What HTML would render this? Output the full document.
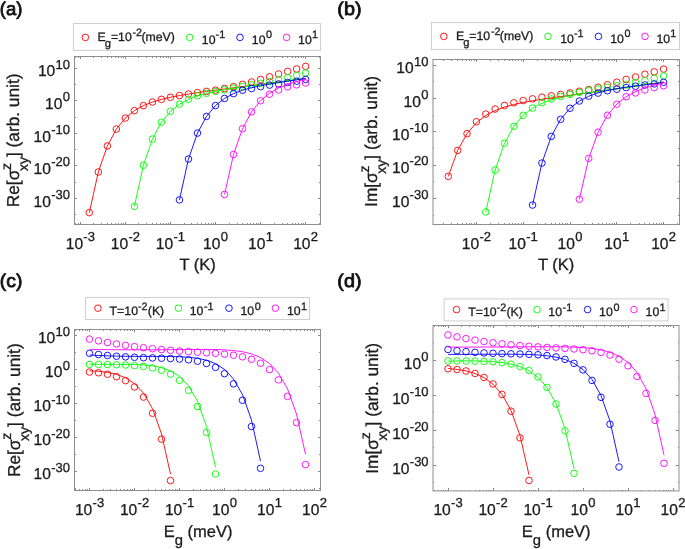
<!DOCTYPE html>
<html><head><meta charset="utf-8"><title>figure</title>
<style>html,body{margin:0;padding:0;background:#fff}body{width:685px;height:549px;overflow:hidden}svg{display:block;will-change:transform}text{text-rendering:geometricPrecision;stroke:#1c1c1c;stroke-width:0.3px}text{font-family:"Liberation Sans", sans-serif;white-space:pre}</style>
</head><body>
<svg width="685" height="549" viewBox="0 0 685 549" font-family='"Liberation Sans", sans-serif' fill="#1c1c1c">
<rect width="685" height="549" fill="#fff"/>
<rect x="74.5" y="56.5" width="246" height="168" fill="#fff" stroke="#8e8e8e" stroke-width="1"/>
<path d="M75.95 224.5v-1.3M75.95 56.5v1.3M78.26 224.5v-1.3M78.26 56.5v1.3M80.32 224.5v-2.6M80.32 56.5v2.6M93.88 224.5v-1.3M93.88 56.5v1.3M101.82 224.5v-1.3M101.82 56.5v1.3M107.45 224.5v-1.3M107.45 56.5v1.3M111.82 224.5v-1.3M111.82 56.5v1.3M115.38 224.5v-1.3M115.38 56.5v1.3M118.4 224.5v-1.3M118.4 56.5v1.3M121.01 224.5v-1.3M121.01 56.5v1.3M123.32 224.5v-1.3M123.32 56.5v1.3M125.38 224.5v-2.6M125.38 56.5v2.6M138.94 224.5v-1.3M138.94 56.5v1.3M146.88 224.5v-1.3M146.88 56.5v1.3M152.51 224.5v-1.3M152.51 56.5v1.3M156.88 224.5v-1.3M156.88 56.5v1.3M160.44 224.5v-1.3M160.44 56.5v1.3M163.46 224.5v-1.3M163.46 56.5v1.3M166.07 224.5v-1.3M166.07 56.5v1.3M168.38 224.5v-1.3M168.38 56.5v1.3M170.44 224.5v-2.6M170.44 56.5v2.6M184 224.5v-1.3M184 56.5v1.3M191.94 224.5v-1.3M191.94 56.5v1.3M197.57 224.5v-1.3M197.57 56.5v1.3M201.94 224.5v-1.3M201.94 56.5v1.3M205.5 224.5v-1.3M205.5 56.5v1.3M208.52 224.5v-1.3M208.52 56.5v1.3M211.13 224.5v-1.3M211.13 56.5v1.3M213.44 224.5v-1.3M213.44 56.5v1.3M215.5 224.5v-2.6M215.5 56.5v2.6M229.06 224.5v-1.3M229.06 56.5v1.3M237 224.5v-1.3M237 56.5v1.3M242.63 224.5v-1.3M242.63 56.5v1.3M247 224.5v-1.3M247 56.5v1.3M250.56 224.5v-1.3M250.56 56.5v1.3M253.58 224.5v-1.3M253.58 56.5v1.3M256.19 224.5v-1.3M256.19 56.5v1.3M258.5 224.5v-1.3M258.5 56.5v1.3M260.56 224.5v-2.6M260.56 56.5v2.6M274.12 224.5v-1.3M274.12 56.5v1.3M282.06 224.5v-1.3M282.06 56.5v1.3M287.69 224.5v-1.3M287.69 56.5v1.3M292.06 224.5v-1.3M292.06 56.5v1.3M295.62 224.5v-1.3M295.62 56.5v1.3M298.64 224.5v-1.3M298.64 56.5v1.3M301.25 224.5v-1.3M301.25 56.5v1.3M303.56 224.5v-1.3M303.56 56.5v1.3M305.62 224.5v-2.6M305.62 56.5v2.6M319.18 224.5v-1.3M319.18 56.5v1.3M74.5 68.38h2.6M320.5 68.38h-2.6M74.5 100.9h2.6M320.5 100.9h-2.6M74.5 133.43h2.6M320.5 133.43h-2.6M74.5 165.95h2.6M320.5 165.95h-2.6M74.5 198.48h2.6M320.5 198.48h-2.6M74.5 84.64h1.3M320.5 84.64h-1.3M74.5 117.16h1.3M320.5 117.16h-1.3M74.5 149.69h1.3M320.5 149.69h-1.3M74.5 182.21h1.3M320.5 182.21h-1.3M74.5 214.74h1.3M320.5 214.74h-1.3" stroke="#8a8a8a" stroke-width="1" shape-rendering="crispEdges" fill="none"/>
<text x="65.72" y="249" font-size="15.6">10</text>
<text x="83.37" y="241.2" font-size="13.0">-3</text>
<text x="110.78" y="249" font-size="15.6">10</text>
<text x="128.43" y="241.2" font-size="13.0">-2</text>
<text x="155.84" y="249" font-size="15.6">10</text>
<text x="173.49" y="241.2" font-size="13.0">-1</text>
<text x="203.06" y="249" font-size="15.6">10</text>
<text x="220.71" y="241.2" font-size="13.0">0</text>
<text x="248.12" y="249" font-size="15.6">10</text>
<text x="265.77" y="241.2" font-size="13.0">1</text>
<text x="293.18" y="249" font-size="15.6">10</text>
<text x="310.83" y="241.2" font-size="13.0">2</text>
<text x="37.9" y="76.47" font-size="15.6">10</text>
<text x="55.54" y="68.67" font-size="13.0">10</text>
<text x="45.12" y="109" font-size="15.6">10</text>
<text x="62.77" y="101.2" font-size="13.0">0</text>
<text x="33.57" y="141.53" font-size="15.6">10</text>
<text x="51.22" y="133.72" font-size="13.0">-10</text>
<text x="33.57" y="174.05" font-size="15.6">10</text>
<text x="51.22" y="166.25" font-size="13.0">-20</text>
<text x="33.57" y="206.58" font-size="15.6">10</text>
<text x="51.22" y="198.78" font-size="13.0">-30</text>
<text transform="translate(19.3 140.4) rotate(-90)" x="0" y="0" font-size="17.3" text-anchor="middle">Re[σ<tspan font-size="14.0" dx="-0.2" dy="-8.4">z</tspan><tspan font-size="14.0" dx="-8.2" dy="17.3">xy</tspan><tspan dy="-8.9">] (arb. unit)</tspan></text>
<text x="197.7" y="270" font-size="16.5" text-anchor="middle">T (K)</text>
<text x="-0.2" y="14.8" font-size="18.5" fill="#111" style="stroke:#111;stroke-width:0.8px" stroke-linejoin="round" textLength="22.6" lengthAdjust="spacingAndGlyphs">(a)</text>
<rect x="73.5" y="23.5" width="247" height="27" fill="#fff" stroke="#cfcfcf" stroke-width="1"/>
<circle cx="85.4" cy="37.4" r="3.3" stroke="#ff0000" stroke-width="0.9" fill="none"/>
<text x="97.6" y="41" font-size="12.3">E</text>
<text x="104.8" y="47.2" font-size="11.200000000000001">g</text>
<text x="110.9" y="41" font-size="12.3">=10</text>
<text x="132.5" y="35.6" font-size="10.8">-2</text>
<text x="141.4" y="41" font-size="12.3">(meV)</text>
<circle cx="189.6" cy="37.4" r="3.3" stroke="#00ff00" stroke-width="0.9" fill="none"/>
<text x="201.8" y="43.9" font-size="12.3">10</text>
<text x="215.6" y="37.5" font-size="10.8">-1</text>
<circle cx="240" cy="37.4" r="3.3" stroke="#0000ff" stroke-width="0.9" fill="none"/>
<text x="251.8" y="43.9" font-size="12.3">10</text>
<text x="266" y="37.5" font-size="10.8">0</text>
<circle cx="286.6" cy="37.4" r="3.3" stroke="#ff00ff" stroke-width="0.9" fill="none"/>
<text x="298.1" y="43.9" font-size="12.3">10</text>
<text x="311.9" y="37.5" font-size="10.8">1</text>
<path d="M89.33 212.65L98.34 171.97L107.36 145.9L116.37 129.06L125.38 118.03L134.39 110.67L143.4 105.63L152.42 102.04L161.43 99.36L170.44 97.27L179.45 95.53L188.46 94.03L197.48 92.66L206.49 91.38L215.5 90.15L224.51 88.96L233.52 87.78L242.54 86.61L251.55 85.45L260.56 84.28L269.57 83.12L278.58 81.95L287.6 80.77L296.61 79.6L305.62 78.42" stroke="#ff0000" stroke-width="0.9" fill="none" stroke-linejoin="round"/>
<g stroke="#ff0000" stroke-width="0.9" fill="none"><circle cx="89.33" cy="212.65" r="3.3"/><circle cx="98.34" cy="171.97" r="3.3"/><circle cx="107.36" cy="145.9" r="3.3"/><circle cx="116.37" cy="129.06" r="3.3"/><circle cx="125.38" cy="118.03" r="3.3"/><circle cx="134.39" cy="110.67" r="3.3"/><circle cx="143.4" cy="105.63" r="3.3"/><circle cx="152.42" cy="102.04" r="3.3"/><circle cx="161.43" cy="99.36" r="3.3"/><circle cx="170.44" cy="97.27" r="3.3"/><circle cx="179.45" cy="95.53" r="3.3"/><circle cx="188.46" cy="94.03" r="3.3"/><circle cx="197.48" cy="92.66" r="3.3"/><circle cx="206.49" cy="91.38" r="3.3"/><circle cx="215.5" cy="90.15" r="3.3"/><circle cx="224.51" cy="88.5" r="3.3"/><circle cx="233.52" cy="86.7" r="3.3"/><circle cx="242.54" cy="84.4" r="3.3"/><circle cx="251.55" cy="82" r="3.3"/><circle cx="260.56" cy="79.4" r="3.3"/><circle cx="269.57" cy="76.8" r="3.3"/><circle cx="278.58" cy="74" r="3.3"/><circle cx="287.6" cy="71.4" r="3.3"/><circle cx="296.61" cy="69" r="3.3"/><circle cx="305.62" cy="66.35" r="3.3"/></g>
<path d="M134.39 206.36L143.4 165.25L152.42 139.05L161.43 122.23L170.44 111.32L179.45 104.13L188.46 99.26L197.48 95.85L206.49 93.35L215.5 91.4L224.51 89.79L233.52 88.38L242.54 87.07L251.55 85.83L260.56 84.61L269.57 83.38L278.58 82.14L287.6 80.88L296.61 79.59L305.62 78.27" stroke="#00ff00" stroke-width="0.9" fill="none" stroke-linejoin="round"/>
<g stroke="#00ff00" stroke-width="0.9" fill="none"><circle cx="134.39" cy="206.36" r="3.3"/><circle cx="143.4" cy="165.25" r="3.3"/><circle cx="152.42" cy="139.05" r="3.3"/><circle cx="161.43" cy="122.23" r="3.3"/><circle cx="170.44" cy="111.32" r="3.3"/><circle cx="179.45" cy="104.13" r="3.3"/><circle cx="188.46" cy="99.26" r="3.3"/><circle cx="197.48" cy="95.85" r="3.3"/><circle cx="206.49" cy="93.35" r="3.3"/><circle cx="215.5" cy="91.4" r="3.3"/><circle cx="224.51" cy="89.79" r="3.3"/><circle cx="233.52" cy="88" r="3.3"/><circle cx="242.54" cy="86.4" r="3.3"/><circle cx="251.55" cy="84.8" r="3.3"/><circle cx="260.56" cy="83.4" r="3.3"/><circle cx="269.57" cy="81.6" r="3.3"/><circle cx="278.58" cy="79.6" r="3.3"/><circle cx="287.6" cy="77.6" r="3.3"/><circle cx="296.61" cy="75.4" r="3.3"/><circle cx="305.62" cy="73" r="3.3"/></g>
<path d="M179.45 199.91L188.46 159.08L197.48 133.08L206.49 116.4L215.5 105.58L224.51 98.45L233.52 93.61L242.54 90.21L251.55 87.7L260.56 85.72L269.57 84.06L278.58 82.59L287.6 81.21L296.61 79.86L305.62 78.53" stroke="#0000ff" stroke-width="0.9" fill="none" stroke-linejoin="round"/>
<g stroke="#0000ff" stroke-width="0.9" fill="none"><circle cx="179.45" cy="199.91" r="3.3"/><circle cx="188.46" cy="159.08" r="3.3"/><circle cx="197.48" cy="133.08" r="3.3"/><circle cx="206.49" cy="116.4" r="3.3"/><circle cx="215.5" cy="105.58" r="3.3"/><circle cx="224.51" cy="98.45" r="3.3"/><circle cx="233.52" cy="93.61" r="3.3"/><circle cx="242.54" cy="90.21" r="3.3"/><circle cx="251.55" cy="88.5" r="3.3"/><circle cx="260.56" cy="86.7" r="3.3"/><circle cx="269.57" cy="85.1" r="3.3"/><circle cx="278.58" cy="83.9" r="3.3"/><circle cx="287.6" cy="82.5" r="3.3"/><circle cx="296.61" cy="81.2" r="3.3"/><circle cx="305.62" cy="79.4" r="3.3"/></g>
<path d="M224.51 194.47L233.52 154.45L242.54 128.65L251.55 111.84L260.56 100.73L269.57 93.22L278.58 88.03L287.6 84.3L296.61 81.53L305.62 79.38" stroke="#ff00ff" stroke-width="0.9" fill="none" stroke-linejoin="round"/>
<g stroke="#ff00ff" stroke-width="0.9" fill="none"><circle cx="224.51" cy="194.47" r="3.3"/><circle cx="233.52" cy="154.45" r="3.3"/><circle cx="242.54" cy="128.65" r="3.3"/><circle cx="251.55" cy="111.84" r="3.3"/><circle cx="260.56" cy="100.73" r="3.3"/><circle cx="269.57" cy="94.2" r="3.3"/><circle cx="278.58" cy="90" r="3.3"/><circle cx="287.6" cy="86.9" r="3.3"/><circle cx="296.61" cy="84.8" r="3.3"/><circle cx="305.62" cy="83" r="3.3"/></g>
<rect x="433" y="59.5" width="246.5" height="165" fill="#fff" stroke="#8e8e8e" stroke-width="1"/>
<path d="M443.69 224.5v-1.3M443.69 59.5v1.3M451.93 224.5v-1.3M451.93 59.5v1.3M457.78 224.5v-1.3M457.78 59.5v1.3M462.31 224.5v-1.3M462.31 59.5v1.3M466.02 224.5v-1.3M466.02 59.5v1.3M469.15 224.5v-1.3M469.15 59.5v1.3M471.86 224.5v-1.3M471.86 59.5v1.3M474.26 224.5v-1.3M474.26 59.5v1.3M476.4 224.5v-2.6M476.4 59.5v2.6M490.49 224.5v-1.3M490.49 59.5v1.3M498.73 224.5v-1.3M498.73 59.5v1.3M504.58 224.5v-1.3M504.58 59.5v1.3M509.11 224.5v-1.3M509.11 59.5v1.3M512.82 224.5v-1.3M512.82 59.5v1.3M515.95 224.5v-1.3M515.95 59.5v1.3M518.66 224.5v-1.3M518.66 59.5v1.3M521.06 224.5v-1.3M521.06 59.5v1.3M523.2 224.5v-2.6M523.2 59.5v2.6M537.29 224.5v-1.3M537.29 59.5v1.3M545.53 224.5v-1.3M545.53 59.5v1.3M551.38 224.5v-1.3M551.38 59.5v1.3M555.91 224.5v-1.3M555.91 59.5v1.3M559.62 224.5v-1.3M559.62 59.5v1.3M562.75 224.5v-1.3M562.75 59.5v1.3M565.46 224.5v-1.3M565.46 59.5v1.3M567.86 224.5v-1.3M567.86 59.5v1.3M570 224.5v-2.6M570 59.5v2.6M584.09 224.5v-1.3M584.09 59.5v1.3M592.33 224.5v-1.3M592.33 59.5v1.3M598.18 224.5v-1.3M598.18 59.5v1.3M602.71 224.5v-1.3M602.71 59.5v1.3M606.42 224.5v-1.3M606.42 59.5v1.3M609.55 224.5v-1.3M609.55 59.5v1.3M612.26 224.5v-1.3M612.26 59.5v1.3M614.66 224.5v-1.3M614.66 59.5v1.3M616.8 224.5v-2.6M616.8 59.5v2.6M630.89 224.5v-1.3M630.89 59.5v1.3M639.13 224.5v-1.3M639.13 59.5v1.3M644.98 224.5v-1.3M644.98 59.5v1.3M649.51 224.5v-1.3M649.51 59.5v1.3M653.22 224.5v-1.3M653.22 59.5v1.3M656.35 224.5v-1.3M656.35 59.5v1.3M659.06 224.5v-1.3M659.06 59.5v1.3M661.46 224.5v-1.3M661.46 59.5v1.3M663.6 224.5v-2.6M663.6 59.5v2.6M677.69 224.5v-1.3M677.69 59.5v1.3M433 65.33h2.6M679.5 65.33h-2.6M433 98.6h2.6M679.5 98.6h-2.6M433 131.87h2.6M679.5 131.87h-2.6M433 165.14h2.6M679.5 165.14h-2.6M433 198.41h2.6M679.5 198.41h-2.6M433 81.97h1.3M679.5 81.97h-1.3M433 115.23h1.3M679.5 115.23h-1.3M433 148.5h1.3M679.5 148.5h-1.3M433 181.77h1.3M679.5 181.77h-1.3M433 215.04h1.3M679.5 215.04h-1.3" stroke="#8a8a8a" stroke-width="1" shape-rendering="crispEdges" fill="none"/>
<text x="461.8" y="248.6" font-size="15.6">10</text>
<text x="479.45" y="240.8" font-size="13.0">-2</text>
<text x="508.6" y="248.6" font-size="15.6">10</text>
<text x="526.25" y="240.8" font-size="13.0">-1</text>
<text x="557.56" y="248.6" font-size="15.6">10</text>
<text x="575.21" y="240.8" font-size="13.0">0</text>
<text x="604.36" y="248.6" font-size="15.6">10</text>
<text x="622.01" y="240.8" font-size="13.0">1</text>
<text x="651.16" y="248.6" font-size="15.6">10</text>
<text x="668.81" y="240.8" font-size="13.0">2</text>
<text x="396.3" y="73.43" font-size="15.6">10</text>
<text x="413.94" y="65.63" font-size="13.0">10</text>
<text x="403.52" y="106.7" font-size="15.6">10</text>
<text x="421.17" y="98.9" font-size="13.0">0</text>
<text x="391.97" y="139.97" font-size="15.6">10</text>
<text x="409.61" y="132.17" font-size="13.0">-10</text>
<text x="391.97" y="173.24" font-size="15.6">10</text>
<text x="409.61" y="165.44" font-size="13.0">-20</text>
<text x="391.97" y="206.51" font-size="15.6">10</text>
<text x="409.61" y="198.71" font-size="13.0">-30</text>
<text transform="translate(377.3 141.5) rotate(-90)" x="0" y="0" font-size="17.3" text-anchor="middle">Im[σ<tspan font-size="14.0" dx="-0.2" dy="-8.4">z</tspan><tspan font-size="14.0" dx="-8.2" dy="17.3">xy</tspan><tspan dy="-8.9">] (arb. unit)</tspan></text>
<text x="556.1" y="270" font-size="16.5" text-anchor="middle">T (K)</text>
<text x="337.3" y="14.8" font-size="18.5" fill="#111" style="stroke:#111;stroke-width:0.8px" stroke-linejoin="round" textLength="24.2" lengthAdjust="spacingAndGlyphs">(b)</text>
<rect x="431.5" y="22.5" width="248" height="27" fill="#fff" stroke="#cfcfcf" stroke-width="1"/>
<circle cx="443.8" cy="36.4" r="3.3" stroke="#ff0000" stroke-width="0.9" fill="none"/>
<text x="456" y="40" font-size="12.3">E</text>
<text x="463.2" y="46.2" font-size="11.200000000000001">g</text>
<text x="469.3" y="40" font-size="12.3">=10</text>
<text x="490.9" y="34.6" font-size="10.8">-2</text>
<text x="499.8" y="40" font-size="12.3">(meV)</text>
<circle cx="548" cy="36.4" r="3.3" stroke="#00ff00" stroke-width="0.9" fill="none"/>
<text x="560.2" y="42.9" font-size="12.3">10</text>
<text x="574" y="36.5" font-size="10.8">-1</text>
<circle cx="598.4" cy="36.4" r="3.3" stroke="#0000ff" stroke-width="0.9" fill="none"/>
<text x="610.2" y="42.9" font-size="12.3">10</text>
<text x="624.4" y="36.5" font-size="10.8">0</text>
<circle cx="645" cy="36.4" r="3.3" stroke="#ff00ff" stroke-width="0.9" fill="none"/>
<text x="656.5" y="42.9" font-size="12.3">10</text>
<text x="670.3" y="36.5" font-size="10.8">1</text>
<path d="M448.32 176.38L457.68 150.38L467.04 133.64L476.4 122.72L485.76 115.48L495.12 110.55L504.48 107.06L513.84 104.47L523.2 102.43L532.56 100.74L541.92 99.26L551.28 97.89L560.64 96.59L570 95.32L579.36 94.06L588.72 92.79L598.08 91.52L607.44 90.22L616.8 88.9L626.16 87.56L635.52 86.19L644.88 84.8L654.24 83.37L663.6 81.93" stroke="#ff0000" stroke-width="0.9" fill="none" stroke-linejoin="round"/>
<g stroke="#ff0000" stroke-width="0.9" fill="none"><circle cx="448.32" cy="176.38" r="3.3"/><circle cx="457.68" cy="150.38" r="3.3"/><circle cx="467.04" cy="133.64" r="3.3"/><circle cx="476.4" cy="121.7" r="3.3"/><circle cx="485.76" cy="114.05" r="3.3"/><circle cx="495.12" cy="109.05" r="3.3"/><circle cx="504.48" cy="105.45" r="3.3"/><circle cx="513.84" cy="102.8" r="3.3"/><circle cx="523.2" cy="100.55" r="3.3"/><circle cx="532.56" cy="98.85" r="3.3"/><circle cx="541.92" cy="97.15" r="3.3"/><circle cx="551.28" cy="95.8" r="3.3"/><circle cx="560.64" cy="94.45" r="3.3"/><circle cx="570" cy="92.95" r="3.3"/><circle cx="579.36" cy="91.25" r="3.3"/><circle cx="588.72" cy="89.55" r="3.3"/><circle cx="598.08" cy="87.2" r="3.3"/><circle cx="607.44" cy="84.75" r="3.3"/><circle cx="616.8" cy="82.2" r="3.3"/><circle cx="626.16" cy="79.5" r="3.3"/><circle cx="635.52" cy="76.95" r="3.3"/><circle cx="644.88" cy="74.2" r="3.3"/><circle cx="654.24" cy="71.85" r="3.3"/><circle cx="663.6" cy="69.1" r="3.3"/></g>
<path d="M485.76 211.96L495.12 169.99L504.48 143.31L513.84 126.27L523.2 115.28L532.56 108.09L541.92 103.28L551.28 99.93L560.64 97.5L570 95.61L579.36 94.05L588.72 92.67L598.08 91.38L607.44 90.12L616.8 88.86L626.16 87.58L635.52 86.27L644.88 84.9L654.24 83.48L663.6 82.01" stroke="#00ff00" stroke-width="0.9" fill="none" stroke-linejoin="round"/>
<g stroke="#00ff00" stroke-width="0.9" fill="none"><circle cx="485.76" cy="211.96" r="3.3"/><circle cx="495.12" cy="169.99" r="3.3"/><circle cx="504.48" cy="143.31" r="3.3"/><circle cx="513.84" cy="126.27" r="3.3"/><circle cx="523.2" cy="115.28" r="3.3"/><circle cx="532.56" cy="108.09" r="3.3"/><circle cx="541.92" cy="102.6" r="3.3"/><circle cx="551.28" cy="98.9" r="3.3"/><circle cx="560.64" cy="96.4" r="3.3"/><circle cx="570" cy="94.4" r="3.3"/><circle cx="579.36" cy="92.4" r="3.3"/><circle cx="588.72" cy="90.6" r="3.3"/><circle cx="598.08" cy="89" r="3.3"/><circle cx="607.44" cy="87.2" r="3.3"/><circle cx="616.8" cy="85.75" r="3.3"/><circle cx="626.16" cy="84.45" r="3.3"/><circle cx="635.52" cy="82.5" r="3.3"/><circle cx="644.88" cy="80.55" r="3.3"/><circle cx="654.24" cy="78.3" r="3.3"/><circle cx="663.6" cy="75.95" r="3.3"/></g>
<path d="M532.56 205.03L541.92 163.09L551.28 136.4L560.64 119.31L570 108.27L579.36 101.04L588.72 96.2L598.08 92.85L607.44 90.44L616.8 88.6L626.16 87.12L635.52 85.86L644.88 84.71L654.24 83.63L663.6 82.58" stroke="#0000ff" stroke-width="0.9" fill="none" stroke-linejoin="round"/>
<g stroke="#0000ff" stroke-width="0.9" fill="none"><circle cx="532.56" cy="205.03" r="3.3"/><circle cx="541.92" cy="163.09" r="3.3"/><circle cx="551.28" cy="136.4" r="3.3"/><circle cx="560.64" cy="119.31" r="3.3"/><circle cx="570" cy="108.27" r="3.3"/><circle cx="579.36" cy="101.04" r="3.3"/><circle cx="588.72" cy="96.2" r="3.3"/><circle cx="598.08" cy="93.1" r="3.3"/><circle cx="607.44" cy="90.75" r="3.3"/><circle cx="616.8" cy="89.25" r="3.3"/><circle cx="626.16" cy="87.6" r="3.3"/><circle cx="635.52" cy="86.25" r="3.3"/><circle cx="644.88" cy="85" r="3.3"/><circle cx="654.24" cy="83.9" r="3.3"/><circle cx="663.6" cy="82.3" r="3.3"/></g>
<path d="M579.36 199.28L588.72 158.4L598.08 132.2L607.44 115.25L616.8 104.15L626.16 96.71L635.52 91.6L644.88 87.93L654.24 85.18L663.6 82.99" stroke="#ff00ff" stroke-width="0.9" fill="none" stroke-linejoin="round"/>
<g stroke="#ff00ff" stroke-width="0.9" fill="none"><circle cx="579.36" cy="199.28" r="3.3"/><circle cx="588.72" cy="158.4" r="3.3"/><circle cx="598.08" cy="132.2" r="3.3"/><circle cx="607.44" cy="115.25" r="3.3"/><circle cx="616.8" cy="104.15" r="3.3"/><circle cx="626.16" cy="96.71" r="3.3"/><circle cx="635.52" cy="92.95" r="3.3"/><circle cx="644.88" cy="89.95" r="3.3"/><circle cx="654.24" cy="87.6" r="3.3"/><circle cx="663.6" cy="85.8" r="3.3"/></g>
<rect x="74.5" y="329.5" width="246" height="161" fill="#fff" stroke="#8e8e8e" stroke-width="1"/>
<path d="M75.95 490.5v-1.3M75.95 329.5v1.3M79.52 490.5v-1.3M79.52 329.5v1.3M82.53 490.5v-1.3M82.53 329.5v1.3M85.14 490.5v-1.3M85.14 329.5v1.3M87.44 490.5v-1.3M87.44 329.5v1.3M89.5 490.5v-2.6M89.5 329.5v2.6M103.05 490.5v-1.3M103.05 329.5v1.3M110.97 490.5v-1.3M110.97 329.5v1.3M116.59 490.5v-1.3M116.59 329.5v1.3M120.95 490.5v-1.3M120.95 329.5v1.3M124.52 490.5v-1.3M124.52 329.5v1.3M127.53 490.5v-1.3M127.53 329.5v1.3M130.14 490.5v-1.3M130.14 329.5v1.3M132.44 490.5v-1.3M132.44 329.5v1.3M134.5 490.5v-2.6M134.5 329.5v2.6M148.05 490.5v-1.3M148.05 329.5v1.3M155.97 490.5v-1.3M155.97 329.5v1.3M161.59 490.5v-1.3M161.59 329.5v1.3M165.95 490.5v-1.3M165.95 329.5v1.3M169.52 490.5v-1.3M169.52 329.5v1.3M172.53 490.5v-1.3M172.53 329.5v1.3M175.14 490.5v-1.3M175.14 329.5v1.3M177.44 490.5v-1.3M177.44 329.5v1.3M179.5 490.5v-2.6M179.5 329.5v2.6M193.05 490.5v-1.3M193.05 329.5v1.3M200.97 490.5v-1.3M200.97 329.5v1.3M206.59 490.5v-1.3M206.59 329.5v1.3M210.95 490.5v-1.3M210.95 329.5v1.3M214.52 490.5v-1.3M214.52 329.5v1.3M217.53 490.5v-1.3M217.53 329.5v1.3M220.14 490.5v-1.3M220.14 329.5v1.3M222.44 490.5v-1.3M222.44 329.5v1.3M224.5 490.5v-2.6M224.5 329.5v2.6M238.05 490.5v-1.3M238.05 329.5v1.3M245.97 490.5v-1.3M245.97 329.5v1.3M251.59 490.5v-1.3M251.59 329.5v1.3M255.95 490.5v-1.3M255.95 329.5v1.3M259.52 490.5v-1.3M259.52 329.5v1.3M262.53 490.5v-1.3M262.53 329.5v1.3M265.14 490.5v-1.3M265.14 329.5v1.3M267.44 490.5v-1.3M267.44 329.5v1.3M269.5 490.5v-2.6M269.5 329.5v2.6M283.05 490.5v-1.3M283.05 329.5v1.3M290.97 490.5v-1.3M290.97 329.5v1.3M296.59 490.5v-1.3M296.59 329.5v1.3M300.95 490.5v-1.3M300.95 329.5v1.3M304.52 490.5v-1.3M304.52 329.5v1.3M307.53 490.5v-1.3M307.53 329.5v1.3M310.14 490.5v-1.3M310.14 329.5v1.3M312.44 490.5v-1.3M312.44 329.5v1.3M314.5 490.5v-2.6M314.5 329.5v2.6M74.5 335.3h2.6M320.5 335.3h-2.6M74.5 369.3h2.6M320.5 369.3h-2.6M74.5 403.3h2.6M320.5 403.3h-2.6M74.5 437.3h2.6M320.5 437.3h-2.6M74.5 471.3h2.6M320.5 471.3h-2.6M74.5 352.3h1.3M320.5 352.3h-1.3M74.5 386.3h1.3M320.5 386.3h-1.3M74.5 420.3h1.3M320.5 420.3h-1.3M74.5 454.3h1.3M320.5 454.3h-1.3M74.5 488.3h1.3M320.5 488.3h-1.3" stroke="#8a8a8a" stroke-width="1" shape-rendering="crispEdges" fill="none"/>
<text x="74.9" y="515" font-size="15.6">10</text>
<text x="92.55" y="507.2" font-size="13.0">-3</text>
<text x="119.9" y="515" font-size="15.6">10</text>
<text x="137.55" y="507.2" font-size="13.0">-2</text>
<text x="164.9" y="515" font-size="15.6">10</text>
<text x="182.55" y="507.2" font-size="13.0">-1</text>
<text x="212.06" y="515" font-size="15.6">10</text>
<text x="229.71" y="507.2" font-size="13.0">0</text>
<text x="257.06" y="515" font-size="15.6">10</text>
<text x="274.71" y="507.2" font-size="13.0">1</text>
<text x="302.06" y="515" font-size="15.6">10</text>
<text x="319.71" y="507.2" font-size="13.0">2</text>
<text x="37.9" y="343.4" font-size="15.6">10</text>
<text x="55.54" y="335.6" font-size="13.0">10</text>
<text x="45.12" y="377.4" font-size="15.6">10</text>
<text x="62.77" y="369.6" font-size="13.0">0</text>
<text x="33.57" y="411.4" font-size="15.6">10</text>
<text x="51.22" y="403.6" font-size="13.0">-10</text>
<text x="33.57" y="445.4" font-size="15.6">10</text>
<text x="51.22" y="437.6" font-size="13.0">-20</text>
<text x="33.57" y="479.4" font-size="15.6">10</text>
<text x="51.22" y="471.6" font-size="13.0">-30</text>
<text transform="translate(19.6 410.2) rotate(-90)" x="0" y="0" font-size="17.3" text-anchor="middle">Re[σ<tspan font-size="14.0" dx="-0.2" dy="-8.4">z</tspan><tspan font-size="14.0" dx="-8.2" dy="17.3">xy</tspan><tspan dy="-8.9">] (arb. unit)</tspan></text>
<text x="198" y="537.1" font-size="16.5" text-anchor="middle">E<tspan font-size="14.8" dy="7.8">g</tspan><tspan dy="-7.8"> (meV)</tspan></text>
<text x="-0.2" y="287" font-size="18.5" fill="#111" style="stroke:#111;stroke-width:0.8px" stroke-linejoin="round" textLength="22.5" lengthAdjust="spacingAndGlyphs">(c)</text>
<rect x="85.5" y="297.5" width="224" height="22" fill="#fff" stroke="#cfcfcf" stroke-width="1"/>
<circle cx="97.9" cy="308.2" r="3.3" stroke="#ff0000" stroke-width="0.9" fill="none"/>
<text x="109.6" y="314.5" font-size="12.3">T=10</text>
<text x="138" y="309.5" font-size="10.8">-2</text>
<text x="147.8" y="314.5" font-size="12.3">(K)</text>
<circle cx="178.4" cy="308.2" r="3.3" stroke="#00ff00" stroke-width="0.9" fill="none"/>
<text x="189.7" y="314.5" font-size="12.3">10</text>
<text x="204" y="309.5" font-size="10.8">-1</text>
<circle cx="229" cy="308.2" r="3.3" stroke="#0000ff" stroke-width="0.9" fill="none"/>
<text x="240.5" y="314.5" font-size="12.3">10</text>
<text x="254.8" y="309.5" font-size="10.8">0</text>
<circle cx="275.4" cy="308.2" r="3.3" stroke="#ff00ff" stroke-width="0.9" fill="none"/>
<text x="287" y="314.5" font-size="12.3">10</text>
<text x="300.9" y="309.5" font-size="10.8">1</text>
<path d="M89.5 370.79L98.5 371.31L107.5 372.38L116.5 374.35L125.5 377.78L134.5 383.58L143.5 393.14L152.5 408.71L161.5 433.83L170.5 474.13" stroke="#ff0000" stroke-width="0.9" fill="none" stroke-linejoin="round"/>
<g stroke="#ff0000" stroke-width="0.9" fill="none"><circle cx="89.5" cy="372" r="3.3"/><circle cx="98.5" cy="372.77" r="3.3"/><circle cx="107.5" cy="374.23" r="3.3"/><circle cx="116.5" cy="376.69" r="3.3"/><circle cx="125.5" cy="380.66" r="3.3"/><circle cx="134.5" cy="386.98" r="3.3"/><circle cx="143.5" cy="397.08" r="3.3"/><circle cx="152.5" cy="413.24" r="3.3"/><circle cx="161.5" cy="439.13" r="3.3"/><circle cx="170.5" cy="480.62" r="3.3"/></g>
<path d="M89.5 364.18L98.5 364.28L107.5 364.31L116.5 364.31L125.5 364.34L134.5 364.5L143.5 364.92L152.5 365.84L161.5 367.62L170.5 370.85L179.5 376.42L188.5 385.81L197.5 401.31L206.5 426.56L215.5 467.35" stroke="#00ff00" stroke-width="0.9" fill="none" stroke-linejoin="round"/>
<g stroke="#00ff00" stroke-width="0.9" fill="none"><circle cx="89.5" cy="364.43" r="3.3"/><circle cx="98.5" cy="364.43" r="3.3"/><circle cx="107.5" cy="364.52" r="3.3"/><circle cx="116.5" cy="364.71" r="3.3"/><circle cx="125.5" cy="365.05" r="3.3"/><circle cx="134.5" cy="365.6" r="3.3"/><circle cx="143.5" cy="366.5" r="3.3"/><circle cx="152.5" cy="367.95" r="3.3"/><circle cx="161.5" cy="370.31" r="3.3"/><circle cx="170.5" cy="374.14" r="3.3"/><circle cx="179.5" cy="380.35" r="3.3"/><circle cx="188.5" cy="390.38" r="3.3"/><circle cx="197.5" cy="406.54" r="3.3"/><circle cx="206.5" cy="432.48" r="3.3"/><circle cx="215.5" cy="474.03" r="3.3"/></g>
<path d="M89.5 355.04L98.5 355.48L107.5 355.83L116.5 356.1L125.5 356.28L134.5 356.38L143.5 356.43L152.5 356.44L161.5 356.45L170.5 356.52L179.5 356.74L188.5 357.25L197.5 358.28L206.5 360.2L215.5 363.58L224.5 369.35L233.5 378.93L242.5 394.64L251.5 420.1L260.5 461.09" stroke="#0000ff" stroke-width="0.9" fill="none" stroke-linejoin="round"/>
<g stroke="#0000ff" stroke-width="0.9" fill="none"><circle cx="89.5" cy="353.29" r="3.3"/><circle cx="98.5" cy="354.48" r="3.3"/><circle cx="107.5" cy="355.46" r="3.3"/><circle cx="116.5" cy="356.25" r="3.3"/><circle cx="125.5" cy="356.86" r="3.3"/><circle cx="134.5" cy="357.33" r="3.3"/><circle cx="143.5" cy="357.69" r="3.3"/><circle cx="152.5" cy="357.97" r="3.3"/><circle cx="161.5" cy="358.24" r="3.3"/><circle cx="170.5" cy="358.55" r="3.3"/><circle cx="179.5" cy="359.03" r="3.3"/><circle cx="188.5" cy="359.82" r="3.3"/><circle cx="197.5" cy="361.19" r="3.3"/><circle cx="206.5" cy="363.49" r="3.3"/><circle cx="215.5" cy="367.33" r="3.3"/><circle cx="224.5" cy="373.63" r="3.3"/><circle cx="233.5" cy="383.84" r="3.3"/><circle cx="242.5" cy="400.25" r="3.3"/><circle cx="251.5" cy="426.49" r="3.3"/><circle cx="260.5" cy="468.31" r="3.3"/></g>
<path d="M89.5 349.35L98.5 349.52L107.5 349.65L116.5 349.75L125.5 349.81L134.5 349.85L143.5 349.84L152.5 349.81L161.5 349.76L170.5 349.68L179.5 349.59L188.5 349.5L197.5 349.44L206.5 349.44L215.5 349.55L224.5 349.86L233.5 350.52L242.5 351.75L251.5 353.89L260.5 357.5L269.5 363.47L278.5 373.19L287.5 388.88L296.5 414.06L305.5 454.29" stroke="#ff00ff" stroke-width="0.9" fill="none" stroke-linejoin="round"/>
<g stroke="#ff00ff" stroke-width="0.9" fill="none"><circle cx="89.5" cy="339.08" r="3.3"/><circle cx="98.5" cy="340.86" r="3.3"/><circle cx="107.5" cy="342.49" r="3.3"/><circle cx="116.5" cy="343.99" r="3.3"/><circle cx="125.5" cy="345.36" r="3.3"/><circle cx="134.5" cy="346.6" r="3.3"/><circle cx="143.5" cy="347.71" r="3.3"/><circle cx="152.5" cy="348.7" r="3.3"/><circle cx="161.5" cy="349.58" r="3.3"/><circle cx="170.5" cy="350.36" r="3.3"/><circle cx="179.5" cy="351.04" r="3.3"/><circle cx="188.5" cy="351.66" r="3.3"/><circle cx="197.5" cy="352.22" r="3.3"/><circle cx="206.5" cy="352.78" r="3.3"/><circle cx="215.5" cy="353.38" r="3.3"/><circle cx="224.5" cy="354.14" r="3.3"/><circle cx="233.5" cy="355.2" r="3.3"/><circle cx="242.5" cy="356.79" r="3.3"/><circle cx="251.5" cy="359.28" r="3.3"/><circle cx="260.5" cy="363.25" r="3.3"/><circle cx="269.5" cy="369.64" r="3.3"/><circle cx="278.5" cy="379.9" r="3.3"/><circle cx="287.5" cy="396.34" r="3.3"/><circle cx="296.5" cy="422.64" r="3.3"/><circle cx="305.5" cy="464.61" r="3.3"/></g>
<rect x="433" y="325.5" width="246" height="165.4" fill="#fff" stroke="#8e8e8e" stroke-width="1"/>
<path d="M434.45 490.9v-1.3M434.45 325.5v1.3M438.02 490.9v-1.3M438.02 325.5v1.3M441.03 490.9v-1.3M441.03 325.5v1.3M443.64 490.9v-1.3M443.64 325.5v1.3M445.94 490.9v-1.3M445.94 325.5v1.3M448 490.9v-2.6M448 325.5v2.6M461.55 490.9v-1.3M461.55 325.5v1.3M469.47 490.9v-1.3M469.47 325.5v1.3M475.09 490.9v-1.3M475.09 325.5v1.3M479.45 490.9v-1.3M479.45 325.5v1.3M483.02 490.9v-1.3M483.02 325.5v1.3M486.03 490.9v-1.3M486.03 325.5v1.3M488.64 490.9v-1.3M488.64 325.5v1.3M490.94 490.9v-1.3M490.94 325.5v1.3M493 490.9v-2.6M493 325.5v2.6M506.55 490.9v-1.3M506.55 325.5v1.3M514.47 490.9v-1.3M514.47 325.5v1.3M520.09 490.9v-1.3M520.09 325.5v1.3M524.45 490.9v-1.3M524.45 325.5v1.3M528.02 490.9v-1.3M528.02 325.5v1.3M531.03 490.9v-1.3M531.03 325.5v1.3M533.64 490.9v-1.3M533.64 325.5v1.3M535.94 490.9v-1.3M535.94 325.5v1.3M538 490.9v-2.6M538 325.5v2.6M551.55 490.9v-1.3M551.55 325.5v1.3M559.47 490.9v-1.3M559.47 325.5v1.3M565.09 490.9v-1.3M565.09 325.5v1.3M569.45 490.9v-1.3M569.45 325.5v1.3M573.02 490.9v-1.3M573.02 325.5v1.3M576.03 490.9v-1.3M576.03 325.5v1.3M578.64 490.9v-1.3M578.64 325.5v1.3M580.94 490.9v-1.3M580.94 325.5v1.3M583 490.9v-2.6M583 325.5v2.6M596.55 490.9v-1.3M596.55 325.5v1.3M604.47 490.9v-1.3M604.47 325.5v1.3M610.09 490.9v-1.3M610.09 325.5v1.3M614.45 490.9v-1.3M614.45 325.5v1.3M618.02 490.9v-1.3M618.02 325.5v1.3M621.03 490.9v-1.3M621.03 325.5v1.3M623.64 490.9v-1.3M623.64 325.5v1.3M625.94 490.9v-1.3M625.94 325.5v1.3M628 490.9v-2.6M628 325.5v2.6M641.55 490.9v-1.3M641.55 325.5v1.3M649.47 490.9v-1.3M649.47 325.5v1.3M655.09 490.9v-1.3M655.09 325.5v1.3M659.45 490.9v-1.3M659.45 325.5v1.3M663.02 490.9v-1.3M663.02 325.5v1.3M666.03 490.9v-1.3M666.03 325.5v1.3M668.64 490.9v-1.3M668.64 325.5v1.3M670.94 490.9v-1.3M670.94 325.5v1.3M673 490.9v-2.6M673 325.5v2.6M433 360.4h2.6M679 360.4h-2.6M433 395.4h2.6M679 395.4h-2.6M433 430.4h2.6M679 430.4h-2.6M433 465.4h2.6M679 465.4h-2.6M433 342.9h1.3M679 342.9h-1.3M433 377.9h1.3M679 377.9h-1.3M433 412.9h1.3M679 412.9h-1.3M433 447.9h1.3M679 447.9h-1.3M433 482.9h1.3M679 482.9h-1.3" stroke="#8a8a8a" stroke-width="1" shape-rendering="crispEdges" fill="none"/>
<text x="433.4" y="515" font-size="15.6">10</text>
<text x="451.05" y="507.2" font-size="13.0">-3</text>
<text x="478.4" y="515" font-size="15.6">10</text>
<text x="496.05" y="507.2" font-size="13.0">-2</text>
<text x="523.4" y="515" font-size="15.6">10</text>
<text x="541.05" y="507.2" font-size="13.0">-1</text>
<text x="570.56" y="515" font-size="15.6">10</text>
<text x="588.21" y="507.2" font-size="13.0">0</text>
<text x="615.56" y="515" font-size="15.6">10</text>
<text x="633.21" y="507.2" font-size="13.0">1</text>
<text x="660.56" y="515" font-size="15.6">10</text>
<text x="678.21" y="507.2" font-size="13.0">2</text>
<text x="403.72" y="368.5" font-size="15.6">10</text>
<text x="421.37" y="360.7" font-size="13.0">0</text>
<text x="392.17" y="403.5" font-size="15.6">10</text>
<text x="409.81" y="395.7" font-size="13.0">-10</text>
<text x="392.17" y="438.5" font-size="15.6">10</text>
<text x="409.81" y="430.7" font-size="13.0">-20</text>
<text x="392.17" y="473.5" font-size="15.6">10</text>
<text x="409.81" y="465.7" font-size="13.0">-30</text>
<text transform="translate(378.4 408.3) rotate(-90)" x="0" y="0" font-size="17.3" text-anchor="middle">Im[σ<tspan font-size="14.0" dx="-0.2" dy="-8.4">z</tspan><tspan font-size="14.0" dx="-8.2" dy="17.3">xy</tspan><tspan dy="-8.9">] (arb. unit)</tspan></text>
<text x="556.2" y="537.1" font-size="16.5" text-anchor="middle">E<tspan font-size="14.8" dy="7.8">g</tspan><tspan dy="-7.8"> (meV)</tspan></text>
<text x="337.3" y="286.5" font-size="18.5" fill="#111" style="stroke:#111;stroke-width:0.8px" stroke-linejoin="round" textLength="24.2" lengthAdjust="spacingAndGlyphs">(d)</text>
<rect x="444.1" y="298.9" width="224" height="22" fill="#fff" stroke="#cfcfcf" stroke-width="1"/>
<circle cx="456.5" cy="309.6" r="3.3" stroke="#ff0000" stroke-width="0.9" fill="none"/>
<text x="468.2" y="315.9" font-size="12.3">T=10</text>
<text x="496.6" y="310.9" font-size="10.8">-2</text>
<text x="506.4" y="315.9" font-size="12.3">(K)</text>
<circle cx="537" cy="309.6" r="3.3" stroke="#00ff00" stroke-width="0.9" fill="none"/>
<text x="548.3" y="315.9" font-size="12.3">10</text>
<text x="562.6" y="310.9" font-size="10.8">-1</text>
<circle cx="587.6" cy="309.6" r="3.3" stroke="#0000ff" stroke-width="0.9" fill="none"/>
<text x="599.1" y="315.9" font-size="12.3">10</text>
<text x="613.4" y="310.9" font-size="10.8">0</text>
<circle cx="634" cy="309.6" r="3.3" stroke="#ff00ff" stroke-width="0.9" fill="none"/>
<text x="645.6" y="315.9" font-size="12.3">10</text>
<text x="659.5" y="310.9" font-size="10.8">1</text>
<path d="M448 368.55L457 369.36L466 370.88L475 373.46L484 377.62L493 384.17L502 394.42L511 410.45L520 435.53L529 474.87" stroke="#ff0000" stroke-width="0.9" fill="none" stroke-linejoin="round"/>
<g stroke="#ff0000" stroke-width="0.9" fill="none"><circle cx="448" cy="368.74" r="3.3"/><circle cx="457" cy="369.52" r="3.3"/><circle cx="466" cy="370.97" r="3.3"/><circle cx="475" cy="373.43" r="3.3"/><circle cx="484" cy="377.46" r="3.3"/><circle cx="493" cy="383.98" r="3.3"/><circle cx="502" cy="394.44" r="3.3"/><circle cx="511" cy="411.16" r="3.3"/><circle cx="520" cy="437.86" r="3.3"/><circle cx="529" cy="480.45" r="3.3"/></g>
<path d="M448 361.23L457 360.99L466 360.87L475 360.91L484 361.14L493 361.66L502 362.61L511 364.2L520 366.76L529 370.84L538 377.28L547 387.45L556 403.48L565 428.77L574 468.71" stroke="#00ff00" stroke-width="0.9" fill="none" stroke-linejoin="round"/>
<g stroke="#00ff00" stroke-width="0.9" fill="none"><circle cx="448" cy="360.9" r="3.3"/><circle cx="457" cy="360.97" r="3.3"/><circle cx="466" cy="361.04" r="3.3"/><circle cx="475" cy="361.16" r="3.3"/><circle cx="484" cy="361.39" r="3.3"/><circle cx="493" cy="361.84" r="3.3"/><circle cx="502" cy="362.66" r="3.3"/><circle cx="511" cy="364.08" r="3.3"/><circle cx="520" cy="366.48" r="3.3"/><circle cx="529" cy="370.46" r="3.3"/><circle cx="538" cy="376.93" r="3.3"/><circle cx="547" cy="387.37" r="3.3"/><circle cx="556" cy="404.11" r="3.3"/><circle cx="565" cy="430.81" r="3.3"/><circle cx="574" cy="473.31" r="3.3"/></g>
<path d="M448 354.39L457 354.38L466 354.35L475 354.31L484 354.27L493 354.23L502 354.21L511 354.22L520 354.31L529 354.53L538 354.97L547 355.78L556 357.16L565 359.48L574 363.3L583 369.5L592 379.49L601 395.5L610 421.07L619 461.78" stroke="#0000ff" stroke-width="0.9" fill="none" stroke-linejoin="round"/>
<g stroke="#0000ff" stroke-width="0.9" fill="none"><circle cx="448" cy="349.47" r="3.3"/><circle cx="457" cy="350.66" r="3.3"/><circle cx="466" cy="351.62" r="3.3"/><circle cx="475" cy="352.36" r="3.3"/><circle cx="484" cy="352.92" r="3.3"/><circle cx="493" cy="353.33" r="3.3"/><circle cx="502" cy="353.62" r="3.3"/><circle cx="511" cy="353.84" r="3.3"/><circle cx="520" cy="354.04" r="3.3"/><circle cx="529" cy="354.31" r="3.3"/><circle cx="538" cy="354.77" r="3.3"/><circle cx="547" cy="355.57" r="3.3"/><circle cx="556" cy="356.97" r="3.3"/><circle cx="565" cy="359.36" r="3.3"/><circle cx="574" cy="363.34" r="3.3"/><circle cx="583" cy="369.86" r="3.3"/><circle cx="592" cy="380.39" r="3.3"/><circle cx="601" cy="397.28" r="3.3"/><circle cx="610" cy="424.2" r="3.3"/><circle cx="619" cy="466.99" r="3.3"/></g>
<path d="M448 347.06L457 347.08L466 347.08L475 347.07L484 347.05L493 347.01L502 346.97L511 346.92L520 346.86L529 346.81L538 346.77L547 346.75L556 346.78L565 346.89L574 347.13L583 347.61L592 348.45L601 349.89L610 352.27L619 356.15L628 362.43L637 372.51L646 388.62L655 414.31L664 455.17" stroke="#ff00ff" stroke-width="0.9" fill="none" stroke-linejoin="round"/>
<g stroke="#ff00ff" stroke-width="0.9" fill="none"><circle cx="448" cy="334.95" r="3.3"/><circle cx="457" cy="336.86" r="3.3"/><circle cx="466" cy="338.59" r="3.3"/><circle cx="475" cy="340.15" r="3.3"/><circle cx="484" cy="341.53" r="3.3"/><circle cx="493" cy="342.76" r="3.3"/><circle cx="502" cy="343.83" r="3.3"/><circle cx="511" cy="344.77" r="3.3"/><circle cx="520" cy="345.58" r="3.3"/><circle cx="529" cy="346.28" r="3.3"/><circle cx="538" cy="346.89" r="3.3"/><circle cx="547" cy="347.42" r="3.3"/><circle cx="556" cy="347.91" r="3.3"/><circle cx="565" cy="348.41" r="3.3"/><circle cx="574" cy="348.98" r="3.3"/><circle cx="583" cy="349.73" r="3.3"/><circle cx="592" cy="350.8" r="3.3"/><circle cx="601" cy="352.45" r="3.3"/><circle cx="610" cy="355.05" r="3.3"/><circle cx="619" cy="359.2" r="3.3"/><circle cx="628" cy="365.84" r="3.3"/><circle cx="637" cy="376.46" r="3.3"/><circle cx="646" cy="393.41" r="3.3"/><circle cx="655" cy="420.4" r="3.3"/><circle cx="664" cy="463.34" r="3.3"/></g>
</svg>
</body></html>
